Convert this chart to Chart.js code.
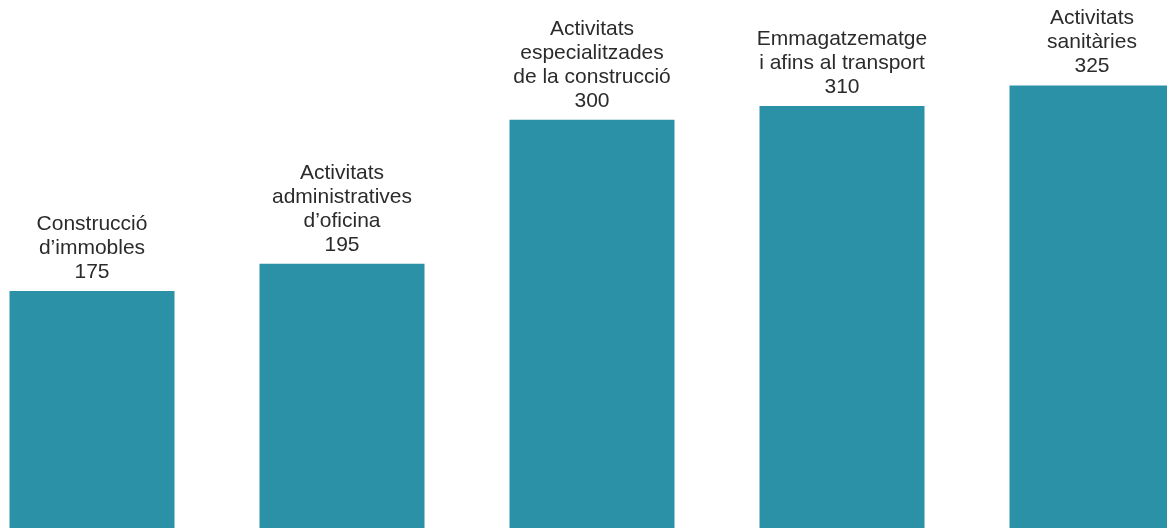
<!DOCTYPE html>
<html>
<head>
<meta charset="utf-8">
<script src="https://cdn.jsdelivr.net/npm/chart.js@4/dist/chart.umd.min.js"></script>
<style>
  html, body { margin: 0; padding: 0; background: #fff; overflow: hidden; }
  body { width: 1167px; height: 528px; position: relative; }
  #wrap { position: absolute; left: -33.5px; top: 0; width: 1250px; height: 531px; }
</style>
</head>
<body>
<div id="wrap"><canvas id="chart" width="1250" height="531"></canvas></div>
<script>
// categories (one array of lines per bar) and values
const categories = [
  ['Construcció', 'd’immobles'],
  ['Activitats', 'administratives', 'd’oficina'],
  ['Activitats', 'especialitzades', 'de la construcció'],
  ['Emmagatzematge', 'i afins al transport'],
  ['Activitats', 'sanitàries']
];
const values = [175, 195, 300, 310, 325];

const BAR_COLOR = '#2b91a7';
const TEXT_COLOR = '#2b2b2b';
const FONT = '21px "Liberation Sans", Arial, Helvetica, sans-serif';

/* ── Labels above the bars ─────────────────────────────── */
const barLabels = {
  id: 'barLabels',
  afterDatasetsDraw(chart) {
    const ctx = chart.ctx;
    const meta = chart.getDatasetMeta(0);
    ctx.save();
    ctx.font = FONT;
    ctx.fillStyle = TEXT_COLOR;
    ctx.textAlign = 'center';
    ctx.textBaseline = 'alphabetic';
    meta.data.forEach((bar, i) => {
      const lines = categories[i].concat([String(values[i])]);
      let y = bar.y - 13;
      for (let k = lines.length - 1; k >= 0; k--) {
        ctx.fillText(lines[k], bar.x, y);
        y -= 24;
      }
    });
    ctx.restore();
  }
};

new Chart(document.getElementById('chart'), {
  type: 'bar',
  data: {
    labels: categories.map(c => c.join(' ')),
    datasets: [{
      data: values,
      backgroundColor: BAR_COLOR,
      borderWidth: 0,
      categoryPercentage: 1,
      barPercentage: 0.66
    }]
  },
  options: {
    responsive: false,
    animation: false,
    devicePixelRatio: 1,
    layout: { padding: 0 },
    plugins: { legend: { display: false }, tooltip: { enabled: false } },
    scales: {
      x: { display: false },
      y: { display: false, min: 0, max: 387.3 }
    }
  },
  plugins: [barLabels]
});
</script>
</body>
</html>
